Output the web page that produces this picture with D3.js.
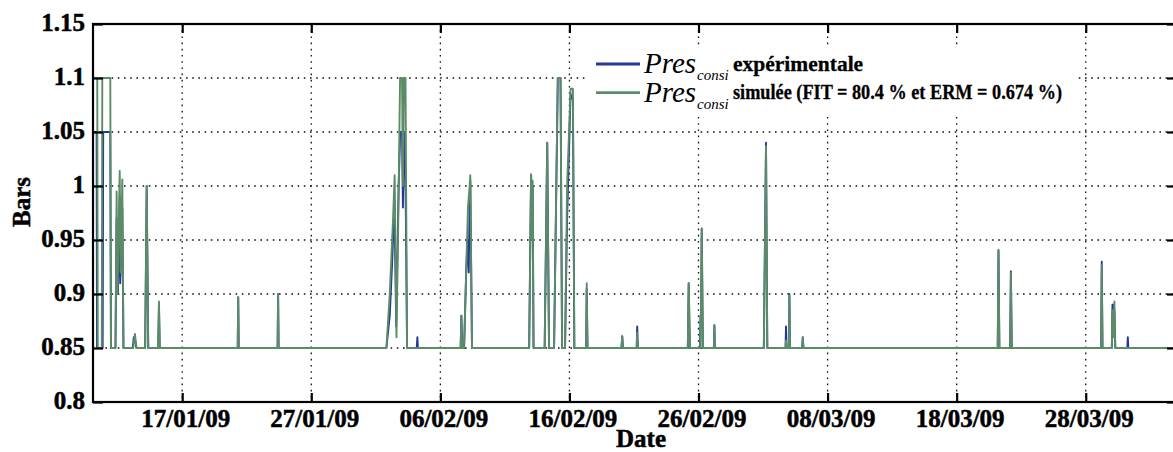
<!DOCTYPE html>
<html><head><meta charset="utf-8">
<script src="https://cdn.jsdelivr.net/npm/d3@7"></script>
<style>body{margin:0;background:#fff}svg{display:block}</style>
</head><body><svg id="c" width="1173" height="452"></svg>
<script>
// ---- data (days since 10/01/2009, pressure in bars) ----
const tickDates = ["2009-01-17","2009-01-27","2009-02-06","2009-02-16","2009-02-26","2009-03-08","2009-03-18","2009-03-28"];
const yTicks = [0.8,0.85,0.9,0.95,1,1.05,1.1,1.15];
const yTickLabels = ["0.8","0.85","0.9","0.95","1","1.05","1.1","1.15"];
const gridY = [0.85,0.9,0.95,1,1.05,1.1];
const dayRange = [0.09, 84.07];

const experimental = [
[0.09,1.05],[0.37,1.05],[0.40,0.85],[0.84,0.85],[0.88,1.05],[1.43,1.05],[1.48,0.85],[1.83,0.85],[1.92,0.97],[2.02,0.90],[2.16,0.99],[2.20,0.91],[2.26,0.935],[2.36,0.98],[2.45,0.85],
[3.17,0.85],[3.25,0.86],[3.34,0.858],[3.46,0.85],
[4.13,0.85],[4.25,1.0],[4.37,0.85],[5.14,0.85],[5.20,0.89],[5.26,0.85],
[11.30,0.85],[11.34,0.897],[11.38,0.85],[14.39,0.85],[14.43,0.90],[14.47,0.85],
[22.82,0.85],[23.08,0.88],[23.27,0.93],[23.35,0.955],[23.46,0.97],[23.58,0.87],[23.66,0.93],[23.77,1.0],[23.89,1.05],[24.03,1.05],[24.10,0.98],[24.18,1.05],[24.26,1.03],[24.33,0.97],[24.42,0.85],
[25.17,0.85],[25.22,0.86],[25.26,0.85],
[28.57,0.85],[28.63,0.88],[28.69,0.85],[28.84,0.85],[29.00,0.92],[29.10,0.95],[29.20,0.92],[29.27,0.99],[29.32,1.005],[29.45,0.85],
[33.88,0.85],[33.98,0.96],[34.03,1.01],[34.11,0.95],[34.15,1.0],[34.22,0.85],
[35.08,0.85],[35.28,1.04],[35.42,0.85],[35.81,0.85],[36.10,1.1],[36.31,1.1],[36.43,0.85],
[36.66,0.85],[36.82,0.97],[37.09,1.085],[37.27,1.08],[37.38,0.85],
[38.29,0.85],[38.34,0.905],[38.40,0.85],[41.03,0.85],[41.09,0.861],[41.15,0.85],[42.21,0.85],[42.25,0.870],[42.30,0.85],
[46.17,0.85],[46.24,0.91],[46.33,0.85],[47.12,0.85],[47.15,0.88],[47.20,0.88],[47.25,0.96],[47.34,0.85],
[48.19,0.85],[48.23,0.871],[48.27,0.85],[52.06,0.85],[52.23,1.04],[52.33,0.85],
[53.74,0.85],[53.78,0.87],[53.83,0.85],[54.00,0.85],[54.04,0.90],[54.09,0.85],[55.03,0.85],[55.08,0.86],[55.13,0.85],
[70.18,0.85],[70.24,0.94],[70.31,0.85],[71.14,0.85],[71.20,0.921],[71.27,0.85],
[78.19,0.85],[78.24,0.930],[78.30,0.85],[79.02,0.85],[79.07,0.89],[79.15,0.89],[79.22,0.885],[79.29,0.85],
[80.22,0.85],[80.26,0.86],[80.30,0.85],[84.07,0.85]
];

const simulated = [
[0.09,1.1],[0.42,1.1],[0.46,0.85],[0.77,0.85],[0.81,1.1],[1.43,1.1],[1.48,0.85],[1.83,0.85],[1.92,0.995],[1.99,0.90],[2.16,1.014],[2.23,0.92],[2.36,1.006],[2.45,0.85],
[3.21,0.85],[3.34,0.863],[3.46,0.85],
[4.13,0.85],[4.25,1.0],[4.37,0.85],[5.14,0.85],[5.20,0.893],[5.26,0.85],
[11.30,0.85],[11.34,0.897],[11.38,0.85],[14.39,0.85],[14.43,0.90],[14.47,0.85],
[22.82,0.85],[23.08,0.90],[23.33,0.968],[23.46,1.01],[23.60,0.86],[23.72,0.95],[23.88,1.1],[24.03,1.1],[24.10,1.0],[24.18,1.1],[24.30,1.1],[24.42,0.85],
[28.57,0.85],[28.63,0.88],[28.69,0.85],[28.84,0.85],[29.00,0.92],[29.14,0.98],[29.27,1.0],[29.32,1.01],[29.45,0.85],
[33.88,0.85],[34.03,1.011],[34.11,0.95],[34.15,1.005],[34.22,0.85],
[35.08,0.85],[35.28,1.04],[35.42,0.85],[35.81,0.85],[36.10,1.1],[36.31,1.1],[36.43,0.85],
[36.66,0.85],[36.82,1.0],[37.09,1.09],[37.27,1.09],[37.38,0.85],
[38.29,0.85],[38.34,0.91],[38.40,0.85],[41.03,0.85],[41.09,0.861],[41.15,0.85],[42.21,0.85],[42.25,0.864],[42.30,0.85],
[46.17,0.85],[46.24,0.91],[46.33,0.85],[47.16,0.85],[47.25,0.961],[47.34,0.85],
[48.19,0.85],[48.23,0.871],[48.27,0.85],[52.06,0.85],[52.23,1.037],[52.33,0.85],
[53.74,0.85],[53.78,0.857],[53.83,0.85],[54.00,0.85],[54.04,0.899],[54.09,0.85],[55.03,0.85],[55.08,0.86],[55.13,0.85],
[70.18,0.85],[70.24,0.941],[70.31,0.85],[71.14,0.85],[71.20,0.920],[71.27,0.85],
[78.19,0.85],[78.24,0.927],[78.30,0.85],[79.02,0.85],[79.07,0.885],[79.15,0.86],[79.22,0.893],[79.29,0.85],
[84.07,0.85]
];

const legendLabels = ["expérimentale", "simulée (FIT = 80.4 % et ERM = 0.674 %)"];
const colors = {exp: "#23399a", sim: "#5b8c66"};

// ---- drawing ----
const t0 = Date.UTC(2009,0,10);
const toDate = d => new Date(t0 + d*86400000);
const L = 93, R = 1177, T = 24, B = 402;
const svg = d3.select("#c");
const FONT = "'Liberation Serif','Times New Roman',serif";

const x = d3.scaleUtc().domain(dayRange.map(toDate)).range([L, R]);
const y = d3.scaleLinear().domain([0.8, 1.15]).range([B, T]);
const ticksX = tickDates.map(s => new Date(s + "T00:00:00Z"));

svg.append("defs").append("clipPath").attr("id","clip")
  .append("rect").attr("x",L).attr("y",T).attr("width",R-L).attr("height",B-T);

// grid
const grid = svg.append("g").attr("stroke","#111").attr("stroke-width",1.3).attr("stroke-dasharray","1.6,4.6");
grid.selectAll(".gy").data(gridY).join("line")
  .attr("x1",L).attr("x2",R).attr("y1",d=>y(d)).attr("y2",d=>y(d));
grid.selectAll(".gx").data(ticksX).join("line")
  .attr("x1",d=>x(d)).attr("x2",d=>x(d)).attr("y1",T).attr("y2",B);

// data lines
const line = d3.line().x(d=>x(toDate(d[0]))).y(d=>y(d[1]));
const plot = svg.append("g").attr("clip-path","url(#clip)");
plot.append("path").datum(experimental).attr("d",line)
  .attr("fill","none").attr("stroke",colors.exp).attr("stroke-width",1.9).attr("stroke-linejoin","round");
plot.append("path").datum(simulated).attr("d",line)
  .attr("fill","none").attr("stroke",colors.sim).attr("stroke-width",1.9).attr("stroke-linejoin","round");

// legend background
svg.append("rect").attr("x",585).attr("y",45).attr("width",492).attr("height",69).attr("fill","#fff");

// axes
const fmt = d3.utcFormat("%d/%m/%y");
const gx = svg.append("g").attr("transform",`translate(0,${B})`)
  .call(d3.axisBottom(x).tickValues(ticksX).tickFormat(fmt).tickSizeInner(-9).tickSizeOuter(0).tickPadding(7));
const gxt = svg.append("g").attr("transform",`translate(0,${T})`)
  .call(d3.axisTop(x).tickValues(ticksX).tickFormat("").tickSizeInner(-9).tickSizeOuter(0));
const gy = svg.append("g").attr("transform",`translate(${L},0)`)
  .call(d3.axisLeft(y).tickValues(yTicks).tickFormat((d,i)=>yTickLabels[i]).tickSizeInner(-10).tickSizeOuter(0).tickPadding(8));
const gyr = svg.append("g").attr("transform",`translate(${R},0)`)
  .call(d3.axisRight(y).tickValues(yTicks).tickFormat("").tickSizeInner(-10).tickSizeOuter(0));
[gx,gxt,gy,gyr].forEach(g=>{
  g.select(".domain").remove();
  g.selectAll(".tick line").attr("stroke","#000").attr("stroke-width",2.2);
  g.selectAll("text").attr("font-family",FONT).attr("font-weight","bold").attr("font-size",25)
    .attr("fill","#000").attr("stroke","#000").attr("stroke-width",0.5);
});
gy.selectAll("text").attr("dy","0.26em");
gx.selectAll("text").attr("dx",3);

// frame
svg.append("rect").attr("x",L).attr("y",T).attr("width",R-L).attr("height",B-T)
  .attr("fill","none").attr("stroke","#000").attr("stroke-width",2.2);

// axis titles
svg.append("text").attr("x",641).attr("y",447).attr("text-anchor","middle")
  .attr("font-family",FONT).attr("font-weight","bold").attr("font-size",25)
  .attr("stroke","#000").attr("stroke-width",0.5).text("Date");
svg.append("text").attr("transform","translate(30,202) rotate(-90)").attr("text-anchor","middle")
  .attr("font-family",FONT).attr("font-weight","bold").attr("font-size",25)
  .attr("stroke","#000").attr("stroke-width",0.5).text("Bars");

// legend
const rows = [{c:colors.exp, lab:legendLabels[0], dy:0, len:null},{c:colors.sim, lab:legendLabels[1], dy:28.7, len:329}];
rows.forEach(r=>{
  const g = svg.append("g").attr("transform",`translate(0,${r.dy})`);
  g.append("line").attr("x1",596).attr("x2",640).attr("y1",64).attr("y2",64).attr("stroke",r.c).attr("stroke-width",2.8);
  g.append("text").attr("x",644).attr("y",73).attr("font-family",FONT).attr("font-style","italic").attr("font-size",29).text("Pres");
  g.append("text").attr("x",697).attr("y",80).attr("font-family",FONT).attr("font-style","italic").attr("font-size",15).text("consi");
  const t = g.append("text").attr("x",733).attr("y",70.7).attr("font-family",FONT).attr("font-weight","bold").attr("font-size",21.5)
    .attr("stroke","#000").attr("stroke-width",0.3).text(r.lab);
  if (r.len) t.attr("textLength",r.len).attr("lengthAdjust","spacingAndGlyphs");
});
</script></body></html>
